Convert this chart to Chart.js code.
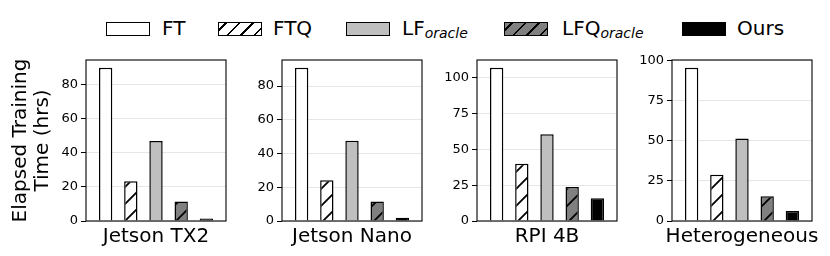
<!DOCTYPE html>
<html>
<head>
<meta charset="utf-8">
<script src="https://cdn.jsdelivr.net/npm/chart.js@4.4.1/dist/chart.umd.min.js"></script>
<style>
  html, body { margin: 0; padding: 0; background: #fff; width: 830px; height: 256px; overflow: hidden; }
  body { position: relative; font-family: 'DejaVu Sans', sans-serif; color: #000; }
  .panel { position: absolute; top: 40px; height: 216px; }
  .sw { position: absolute; top: 22px; width: 44px; height: 14px; box-sizing: border-box; border: 1.4px solid #000; }
  .lb { position: absolute; top: 16px; font-size: 20px; line-height: 24px; white-space: nowrap; }
  .lb i { font-size: 14px; position: relative; top: 3px; }
</style>
</head>
<body>
<div id="legend"></div>
<canvas id="c0" class="panel"></canvas>
<canvas id="c1" class="panel"></canvas>
<canvas id="c2" class="panel"></canvas>
<canvas id="c3" class="panel"></canvas>
<script>
// data (hrs)
const devices = ['Jetson TX2', 'Jetson Nano', 'RPI 4B', 'Heterogeneous'];
const methods = ['FT', 'FTQ', 'LF', 'LFQ', 'Ours'];
const methodSubs = ['', '', 'oracle', 'oracle', ''];
const ftHours = [90, 90.9, 107, 95.8];
const ftqHours = [23.4, 24.2, 40, 28.9];
const lfHours = [47, 47.6, 60.5, 51.5];
const lfqHours = [11.4, 11.5, 23.8, 15.5];
const oursHours = [1.4, 2, 15.9, 6.3];
const yStep = [20, 20, 25, 25];

// layout
const canvasLeft = [0, 232, 427, 622];
const yAxisWidth = [86, 50, 50, 50];
const plotWidth = 140;
const padRight = 6;

function hatch(bg, size) {
    const c = document.createElement('canvas');
    c.width = size; c.height = size;
    const g = c.getContext('2d');
    g.fillStyle = bg;
    g.fillRect(0, 0, size, size);
    g.strokeStyle = '#000';
    g.lineWidth = 1.8;
    g.beginPath();
    g.moveTo(0, size); g.lineTo(size, 0);
    g.moveTo(-size / 2, size / 2); g.lineTo(size / 2, -size / 2);
    g.moveTo(size / 2, size * 1.5); g.lineTo(size * 1.5, size / 2);
    g.stroke();
    return g.createPattern(c, 'repeat');
}

const fills = ['#ffffff', hatch('#ffffff', 17), '#bfbfbf', hatch('#808080', 17), '#000000'];

// legend (html so the subscripts work)
const legendBox = [106, 218, 346, 504, 682];
const legendText = [162, 273, 402, 562, 737];
const legendCss = [
    '#fff',
    'repeating-linear-gradient(135deg, #fff 0 4px, #000 4px 5.7px, #fff 5.7px 9.6px)',
    '#bfbfbf',
    'repeating-linear-gradient(135deg, #808080 0 4px, #000 4px 5.7px, #808080 5.7px 9.6px)',
    '#000'
];
const legend = document.getElementById('legend');
methods.forEach((m, i) => {
    legend.innerHTML += `<div class="sw" style="left:${legendBox[i]}px;background:${legendCss[i]}"></div>` +
        `<div class="lb" style="left:${legendText[i]}px">${m}${methodSubs[i] ? '<i>' + methodSubs[i] + '</i>' : ''}</div>`;
});

// frame around each plot area
const frameBox = {
    id: 'frameBox',
    afterDraw(chart) {
        const { ctx, chartArea: a } = chart;
        ctx.save();
        ctx.strokeStyle = '#000';
        ctx.lineWidth = 1.1;
        ctx.strokeRect(a.left, a.top, a.right - a.left, a.bottom - a.top);
        ctx.restore();
    }
};

devices.forEach((dev, p) => {
    const vals = [ftHours[p], ftqHours[p], lfHours[p], lfqHours[p], oursHours[p]];
    const el = document.getElementById('c' + p);
    const w = yAxisWidth[p] + plotWidth + padRight;
    el.width = w; el.height = 216;
    el.style.left = canvasLeft[p] + 'px';
    el.style.width = w + 'px';

    new Chart(el, {
        type: 'bar',
        data: {
            datasets: [{
                data: vals.map((v, i) => ({ x: i, y: v })),
                backgroundColor: fills,
                borderColor: '#000',
                borderWidth: 1.5,
                barPercentage: 1,
                categoryPercentage: 0.53
            }]
        },
        options: {
            responsive: false,
            animation: false,
            devicePixelRatio: 1,
            layout: { padding: { top: 20, right: padRight, left: 0, bottom: 3 } },
            plugins: { legend: { display: false }, tooltip: { enabled: false } },
            scales: {
                x: {
                    type: 'linear',
                    min: -0.78,
                    max: 4.78,
                    offset: false,
                    grid: { display: false, drawTicks: false },
                    border: { display: false },
                    afterBuildTicks: s => { s.ticks = [{ value: 2 }]; },
                    // wide names (Heterogeneous) must not shrink the plot
                    afterFit: s => { s.paddingLeft = 0; s.paddingRight = 0; },
                    ticks: {
                        callback: () => dev,
                        maxRotation: 0,
                        autoSkip: false,
                        padding: 4,
                        color: '#000',
                        font: { family: 'DejaVu Sans', size: 20 }
                    }
                },
                y: {
                    min: 0,
                    max: Math.max(...vals) * 1.05,
                    grid: { color: '#e6e6e6', tickColor: '#000', tickLength: 5, lineWidth: 1 },
                    border: { display: false },
                    afterBuildTicks: s => {
                        const t = [];
                        for (let v = 0; v <= s.max; v += yStep[p]) t.push({ value: v });
                        s.ticks = t;
                    },
                    afterFit: s => { s.width = yAxisWidth[p]; },
                    ticks: {
                        stepSize: yStep[p],
                        padding: 3,
                        color: '#000',
                        font: { family: 'DejaVu Sans', size: 13 }
                    },
                    title: {
                        display: p === 0,
                        text: ['Elapsed Training', 'Time (hrs)'],
                        color: '#000',
                        font: { family: 'DejaVu Sans', size: 20, lineHeight: 1.1 },
                        padding: { top: 10, bottom: 0 }
                    }
                }
            }
        },
        plugins: [frameBox]
    });
});
</script>
</body>
</html>
